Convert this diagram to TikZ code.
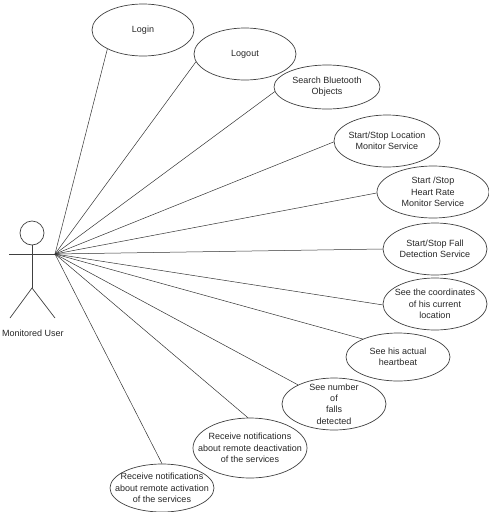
\documentclass[tikz,border=0pt]{standalone}
\usepackage{fontspec}
\setmainfont{Liberation Sans}
\usepackage{tikz}
\usetikzlibrary{shapes.geometric}

\tikzset{
  usecase/.style={draw=black!75, line width=0.7pt, ellipse, inner sep=0pt},
  casetext/.style={align=center, inner sep=0pt, text=black!85, font=\fontsize{9}{11.3}\selectfont},
  link/.style={line width=0.5pt, draw=black!80},
  stick/.style={line width=0.7pt, draw=black!75}
}

\begin{document}
\begin{tikzpicture}[x=1pt,y=-1pt]
\useasboundingbox (0,0) rectangle (489,512);

\draw[stick] (32,233) circle (12pt);
\coordinate (hub) at (55,254);
\draw[stick] (32,245) -- (32,288);
\draw[stick] (9,254) -- (hub);
\draw[stick] (10,318) -- (32,288) -- (55,318);
\node[casetext] (user) at (33,333) {Monitored User};

\node[usecase, minimum width=102pt, minimum height=52pt, label={[casetext]center:Login}] (login) at (143,30) {};
\node[usecase, minimum width=102pt, minimum height=52pt, label={[casetext]center:Logout}] (logout) at (245,54) {};
\node[usecase, minimum width=106pt, minimum height=44pt, label={[casetext]center:Search Bluetooth\\Objects}] (search) at (327,87) {};
\node[usecase, minimum width=106pt, minimum height=52pt, label={[casetext]center:Start/Stop Location\\Monitor Service}] (location) at (387,141) {};
\node[usecase, minimum width=112pt, minimum height=52pt, label={[casetext]center:Start /Stop\\Heart Rate\\Monitor Service}] (heartsvc) at (433,192) {};
\node[usecase, minimum width=104pt, minimum height=52pt, label={[casetext]center:Start/Stop Fall\\Detection Service}] (fallsvc) at (435,249) {};
\node[usecase, minimum width=104pt, minimum height=52pt, label={[casetext]center:See the coordinates\\of his current\\location}] (coords) at (435,304) {};
\node[usecase, minimum width=104pt, minimum height=48pt, label={[casetext]center:See his actual\\heartbeat}] (heartbeat) at (398,357) {};
\node[usecase, minimum width=104pt, minimum height=52pt, label={[casetext]center:See number\\of\\falls\\detected}] (falls) at (334,404) {};
\node[usecase, minimum width=114pt, minimum height=60pt, label={[casetext]center:Receive notifications\\about remote deactivation\\of the services}] (deact) at (250,448) {};
\node[usecase, minimum width=104pt, minimum height=48pt, label={[casetext]center:Receive notifications\\about remote activation\\of the services}] (act) at (162,488) {};

\draw[link] (hub) -- (login.208);
\draw[link] (hub) -- (logout.189);
\draw[link] (hub) -- (search.185);
\draw[link] (hub) -- (location.181);
\draw[link] (hub) -- (heartsvc.181);
\draw[link] (hub) -- (fallsvc.180);
\draw[link] (hub) -- (coords.181);
\draw[link] (hub) -- (heartbeat.153);
\draw[link] (hub) -- (falls.152);
\draw[link] (hub) -- (deact.94);
\draw[link] (hub) -- (act.90);
\end{tikzpicture}
\end{document}
